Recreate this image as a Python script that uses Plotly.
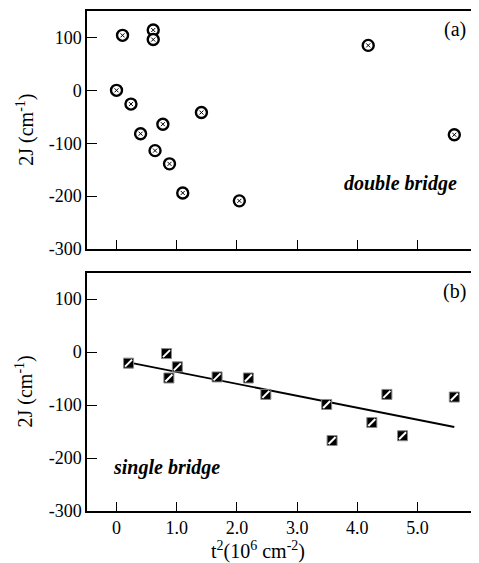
import plotly.graph_objects as go

# Panel (a): double bridge
double_t2 = [0.0, 0.10, 0.61, 0.61, 0.24, 0.40, 0.64, 0.77, 0.88, 1.10, 1.41, 2.04, 4.18, 5.61]
double_2J = [0, 104, 114, 96, -26, -82, -114, -64, -139, -194, -42, -209, 85, -84]

# Panel (b): single bridge
single_t2 = [0.20, 0.83, 1.01, 0.87, 1.67, 2.19, 2.48, 3.49, 3.58, 4.24, 4.49, 4.75, 5.61]
single_2J = [-21, -3, -28, -49, -47, -49, -80, -99, -167, -133, -80, -158, -85]

# Linear fit line endpoints
fit_t2 = [0.20, 5.61]
fit_2J = [-19.5, -141.5]

x_ticks = [0, 1, 2, 3, 4, 5]
x_ticklabels = ["0", "1.0", "2.0", "3.0", "4.0", "5.0"]
y_ticks = [100, 0, -100, -200, -300]
y_ticklabels = ["100", "0", "-100", "-200", "-300"]

FONT = "Liberation Serif, Times New Roman, serif"

fig = go.Figure()

# top panel markers
fig.add_trace(go.Scatter(x=double_t2, y=double_2J, mode="markers", xaxis="x", yaxis="y",
                         marker=dict(symbol="circle", size=11, color="white",
                                     line=dict(color="black", width=2.4)),
                         showlegend=False, hoverinfo="skip"))
fig.add_trace(go.Scatter(x=double_t2, y=double_2J, mode="markers", xaxis="x", yaxis="y",
                         marker=dict(symbol="x-thin-open", size=4, color="black",
                                     line=dict(color="black", width=1)),
                         showlegend=False, hoverinfo="skip"))

# bottom panel
fig.add_trace(go.Scatter(x=fit_t2, y=fit_2J, mode="lines", xaxis="x2", yaxis="y2",
                         line=dict(color="black", width=1.8),
                         showlegend=False, hoverinfo="skip"))
fig.add_trace(go.Scatter(x=single_t2, y=single_2J, mode="markers", xaxis="x2", yaxis="y2",
                         marker=dict(symbol="square", size=10, color="black",
                                     line=dict(color="#888888", width=1)),
                         showlegend=False, hoverinfo="skip"))
fig.add_trace(go.Scatter(x=single_t2, y=single_2J, mode="markers", xaxis="x2", yaxis="y2",
                         marker=dict(symbol="line-ne", size=7, color="white",
                                     line=dict(color="white", width=2)),
                         showlegend=False, hoverinfo="skip"))

xr = [-0.49, 5.97]
yr = [-300, 150]
top_dom = [0.524, 1.0]
bot_dom = [0.0, 0.477]

tickfont = dict(family=FONT, size=18, color="black")
common_x = dict(range=xr, tickmode="array", tickvals=x_ticks, ticktext=x_ticklabels,
                ticks="inside", ticklen=9, tickwidth=1.2, tickcolor="black",
                showline=True, linecolor="black", linewidth=1.5, mirror=True,
                showgrid=False, zeroline=False, tickfont=tickfont)
common_y = dict(range=yr, tickmode="array", tickvals=y_ticks, ticktext=y_ticklabels,
                ticks="inside", ticklen=10, tickwidth=1.2, tickcolor="black",
                showline=True, linecolor="black", linewidth=1.5, mirror=True,
                showgrid=False, zeroline=False, tickfont=tickfont)

ytitle = "2J (cm<sup>-1</sup>)"
xtitle = "t<sup>2</sup>(10<sup>6</sup> cm<sup>-2</sup>)"
title_font = dict(family=FONT, size=20, color="black")

# the page body has an 8px margin, so the figure is offset by 8px
fig.update_layout(
    width=471, height=555,
    margin=dict(l=79, r=1, t=2, b=52),
    paper_bgcolor="white", plot_bgcolor="white",
    font=dict(family=FONT, size=18, color="black"),
    xaxis=dict(common_x, domain=[0, 1], anchor="y", showticklabels=False),
    yaxis=dict(common_y, domain=top_dom, anchor="x"),
    xaxis2=dict(common_x, domain=[0, 1], anchor="y2"),
    yaxis2=dict(common_y, domain=bot_dom, anchor="x2"),
    annotations=[
        dict(text=ytitle, textangle=-90, x=-0.16, y=0.5, xref="paper", yref="y domain",
             xanchor="center", yanchor="middle", showarrow=False, font=title_font),
        dict(text=ytitle, textangle=-90, x=-0.16, y=0.5, xref="paper", yref="y2 domain",
             xanchor="center", yanchor="middle", showarrow=False, font=title_font),
        dict(text=xtitle, x=0.44, y=-0.079, xref="paper", yref="paper",
             xanchor="center", yanchor="middle", showarrow=False,
             font=dict(family=FONT, size=20, color="black")),
        dict(text="(a)", x=5.62, y=115, xref="x", yref="y", showarrow=False,
             font=dict(family=FONT, size=20, color="black")),
        dict(text="(b)", x=5.62, y=115, xref="x2", yref="y2", showarrow=False,
             font=dict(family=FONT, size=20, color="black")),
        dict(text="<b><i>double bridge</i></b>", x=4.72, y=-177, xref="x", yref="y",
             showarrow=False, font=dict(family=FONT, size=20, color="black")),
        dict(text="<b><i>single bridge</i></b>", x=0.83, y=-218, xref="x2", yref="y2",
             showarrow=False, font=dict(family=FONT, size=20, color="black")),
    ],
)

fig.write_html("out.html")
